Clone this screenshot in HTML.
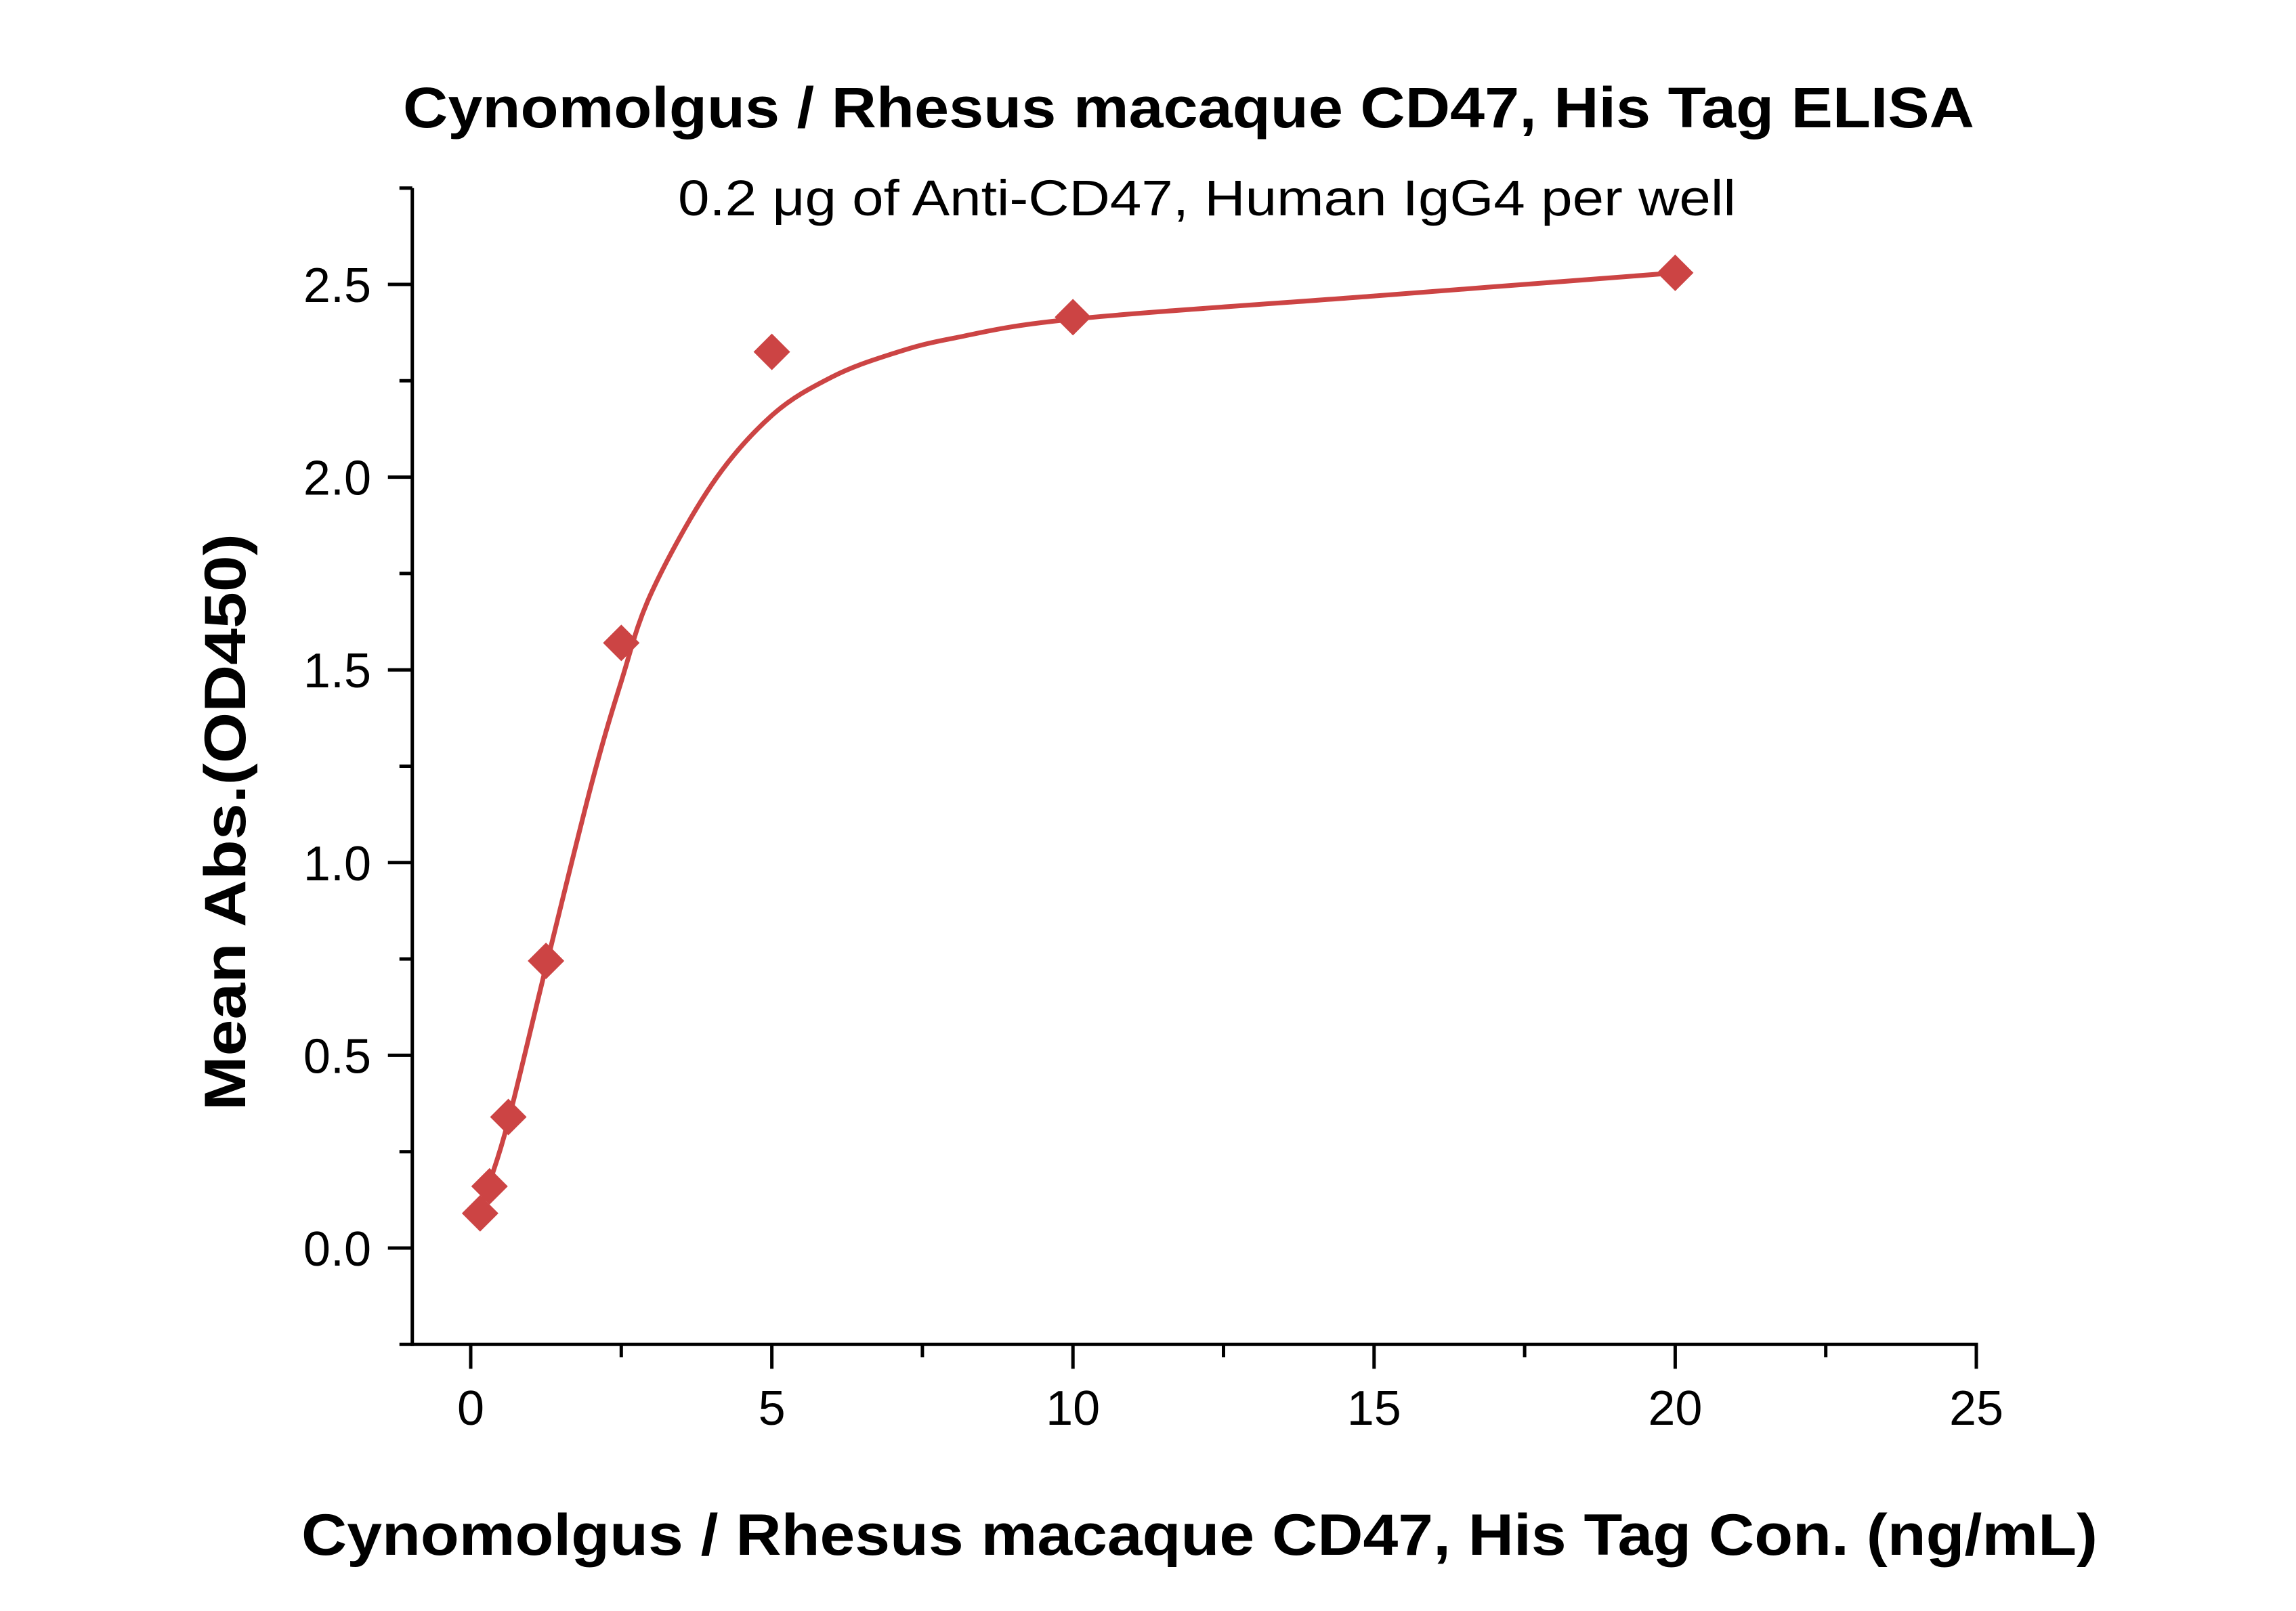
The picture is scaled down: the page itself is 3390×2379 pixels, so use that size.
<!DOCTYPE html>
<html><head><meta charset="utf-8"><style>html,body{margin:0;padding:0;background:#fff}svg{display:block}</style></head>
<body>
<svg id="chart" width="3390" height="2379" viewBox="0 0 3390 2379" xmlns="http://www.w3.org/2000/svg" font-family="'Liberation Sans', sans-serif">
<rect width="3390" height="2379" fill="#fff"/>
<text x="1755" y="188" text-anchor="middle" font-size="84" font-weight="bold" textLength="2320" lengthAdjust="spacingAndGlyphs">Cynomolgus / Rhesus macaque CD47, His Tag ELISA</text>
<text x="1782" y="318" text-anchor="middle" font-size="74" textLength="1562" lengthAdjust="spacingAndGlyphs">0.2 μg of Anti-CD47, Human IgG4 per well</text>
<text x="1771" y="2296" text-anchor="middle" font-size="86" font-weight="bold" textLength="2652" lengthAdjust="spacingAndGlyphs">Cynomolgus / Rhesus macaque CD47, His Tag Con. (ng/mL)</text>
<text transform="translate(362,1214) rotate(-90)" text-anchor="middle" font-size="86" font-weight="bold" textLength="852" lengthAdjust="spacingAndGlyphs">Mean Abs.(OD450)</text>
<g id="axes"></g>
<g id="marks"></g>
</svg>
<script>
const xTicks = [0, 5, 10, 15, 20, 25];
const xTickLabels = ["0", "5", "10", "15", "20", "25"];
const yTicks = [0, 0.5, 1.0, 1.5, 2.0, 2.5];
const yTickLabels = ["0.0", "0.5", "1.0", "1.5", "2.0", "2.5"];
const concX = [0.156, 0.3125, 0.625, 1.25, 2.5, 5, 10, 20];
const absY = [0.09, 0.16, 0.34, 0.745, 1.57, 2.325, 2.415, 2.53];
const fitX = [0.156, 0.3125, 0.625, 1.25, 2, 2.5, 3, 4, 5, 6, 7, 8, 10, 15, 20];
const fitY = [0.1, 0.17, 0.33, 0.73, 1.2, 1.47, 1.70, 1.98, 2.16, 2.26, 2.32, 2.36, 2.41, 2.47, 2.53];

const NS = "http://www.w3.org/2000/svg";
const X0 = 695, XS = (2918 - 695) / 25;
const Y0 = 1843, YS = (1843 - 420) / 2.5;
const sx = v => X0 + (v - 0) * XS;
const sy = v => Y0 - v * YS;
const xMin = -0.97, xMax = 25, yMin = -0.25, yMax = 2.75;
const axes = document.getElementById('axes');
const marks = document.getElementById('marks');
function mk(tag, attrs, parent) {
  const e = document.createElementNS(NS, tag);
  for (const k in attrs) e.setAttribute(k, attrs[k]);
  parent.appendChild(e);
  return e;
}
const left = sx(xMin), bottom = sy(yMin);
let e;
e = mk('line', {x1: left, y1: sy(yMax), x2: left, y2: bottom + 2.5, stroke: '#000', 'stroke-width': 5}, axes);


e = mk('line', {x1: left - 2.5, y1: bottom, x2: sx(xMax) + 2.5, y2: bottom, stroke: '#000', 'stroke-width': 5}, axes);


// y ticks major + minor
for (let v = -0.25; v <= 2.76; v += 0.25) {
  const major = Math.abs(v / 0.5 - Math.round(v / 0.5)) < 1e-6;
  e = mk('line', {x1: left - (major ? 36 : 19), y1: sy(v), x2: left, y2: sy(v), stroke: '#000', 'stroke-width': 5}, axes);
  
  
}
yTicks.forEach((v, i) => {
  const t = mk('text', {x: 548, y: sy(v) + 26, 'text-anchor': 'end', 'font-size': 72}, axes);
  t.textContent = yTickLabels[i];
  
  
});
for (let v = 0; v <= 25.01; v += 2.5) {
  const major = Math.abs(v / 5 - Math.round(v / 5)) < 1e-6;
  e = mk('line', {x1: sx(v), y1: bottom, x2: sx(v), y2: bottom + (major ? 36 : 19), stroke: '#000', 'stroke-width': 5}, axes);
  
  
}
xTicks.forEach((v, i) => {
  const t = mk('text', {x: sx(v), y: 2104, 'text-anchor': 'middle', 'font-size': 72}, axes);
  t.textContent = xTickLabels[i];
  
  
});
// fit curve (Catmull-Rom)
const P = fitX.map((x, i) => [sx(x), sy(fitY[i])]);
let d = `M${P[0][0]},${P[0][1]}`;
for (let i = 0; i < P.length - 1; i++) {
  const p0 = P[Math.max(0, i - 1)], p1 = P[i], p2 = P[i + 1], p3 = P[Math.min(P.length - 1, i + 2)];
  const c1 = [p1[0] + (p2[0] - p0[0]) / 6, p1[1] + (p2[1] - p0[1]) / 6];
  const c2 = [p2[0] - (p3[0] - p1[0]) / 6, p2[1] - (p3[1] - p1[1]) / 6];
  d += ` C${c1[0]},${c1[1]} ${c2[0]},${c2[1]} ${p2[0]},${p2[1]}`;
}
e = mk('path', {d: d, fill: 'none', stroke: '#cc4444', 'stroke-width': 7}, marks);


concX.forEach((x, i) => {
  const cx = sx(x), cy = sy(absY[i]), r = 27;
  const m = mk('polygon', {points: `${cx},${cy - r} ${cx + r},${cy} ${cx},${cy + r} ${cx - r},${cy}`, fill: '#cc4444'}, marks);
  
  
});
</script>
</body></html>
